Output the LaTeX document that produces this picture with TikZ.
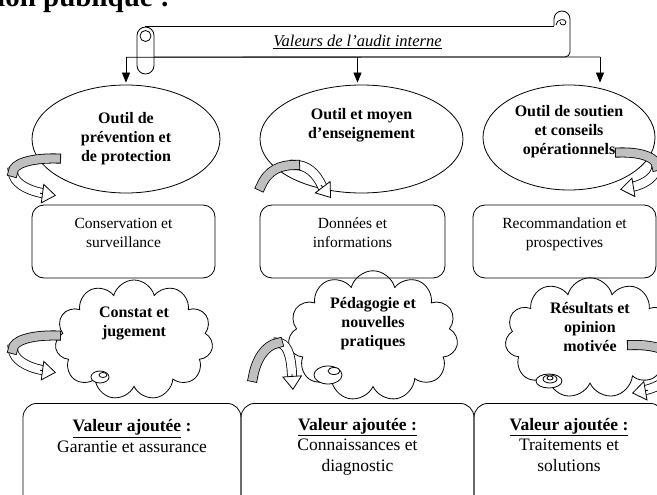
\documentclass[tikz,border=0pt]{standalone}
\usepackage{fontspec}
\setmainfont{Liberation Serif}
\usetikzlibrary{shapes.geometric,shapes.symbols,arrows.meta,positioning}

\definecolor{gris}{RGB}{191,191,191}

\tikzset{
  trait/.style={line width=0.8pt},
  fleche/.style={trait,-{Triangle[width=8pt,length=10pt]},shorten >=2pt},
  titre/.style={anchor=base west,inner sep=0pt,font=\fontsize{29}{33}\selectfont\bfseries},
  rouleau/.style={minimum width=425pt,minimum height=31pt,inner sep=0pt,font=\fontsize{16.5}{19}\selectfont\itshape},
  outil/.style={draw,trait,ellipse,inner sep=0pt,align=center,font=\fontsize{16}{19}\selectfont\bfseries},
  boite/.style={draw,trait,rounded corners=12pt,align=center,minimum height=73pt,font=\fontsize{15.5}{19}\selectfont},
  nuage/.style={draw,trait,cloud,cloud puffs=11,cloud ignores aspect,inner sep=0pt,align=center,font=\fontsize{16}{19}\selectfont\bfseries},
  valeur/.style={draw,trait,rounded corners=14pt,anchor=north,align=center,minimum height=112pt,font=\fontsize{17.5}{20.5}\selectfont},
  bulle/.style={trait,fill=white},
  bande/.style={line width=0.8pt,double distance=8.4pt,line cap=rect},
  pointe/.style={trait,-{Triangle[width=20pt,length=14pt,fill=white]}},
  retour/.pic={
    \draw[bande,double=white] (13,172) .. controls (13,182) and (26,190) .. (42,193);
    \draw[bande,double=gris] (56,158.5) .. controls (30,158) and (13,164) .. (13,172);
    \draw[pointe] (40,193.3) -- (56,195.5);
  }
}

\begin{document}
\begin{tikzpicture}[x=1pt,y=-1pt]
  \useasboundingbox (0,0) rectangle (657,495);
  \clip (0,0) rectangle (657,495);

  % titre coupe en haut de page
  \node[titre] (titre) at (-3,7) {ion publique :};

  % rouleau
  \node[rouleau] (valeurs) at (357.5,41.5) {\underline{Valeurs de l’audit interne}};
  \draw[trait] (145,26) -- (554,26);
  \draw[trait] (554,26) -- (554,19) arc[start angle=180,end angle=360,radius=8]
    -- (570,52) arc[start angle=0,end angle=90,radius=5] -- (154,57);
  \draw[trait] (556,25) .. controls (556,19) and (566,18) .. (566,22)
    .. controls (566,26) and (560,26) .. (560,22);
  \draw[trait,rounded corners=8.5pt] (137,27) rectangle (154,74);
  \draw[trait] (145.5,36) circle (5.5);

  % outils
  \node[outil,minimum width=188pt,minimum height=108pt] (outilA) at (126,139) {Outil de\\prévention et\\de protection};
  \node[outil,minimum width=203pt,minimum height=108pt] (outilB) at (361.5,139) {Outil et moyen\\d’enseignement\\[7pt]\strut};
  \node[outil,minimum width=172pt,minimum height=105pt] (outilC) at (569,137.5) {Outil de soutien\\et conseils\\opérationnels\\[-10pt]\strut};

  % fleches du rouleau
  \coordinate (droite) at (600,57);
  \draw[trait] (valeurs.south -| outilA.north) -- (droite);
  \draw[fleche] (valeurs.south -| outilA.north) -- (outilA.north);
  \draw[fleche] (valeurs.south) -- (valeurs.south |- outilB.north);
  \draw[fleche] (droite) -- (droite |- outilC.north);

  % boites
  \node[boite,minimum width=183pt] (conservation) at (123.5,241.5) {Conservation et\\surveillance\\[-7pt]\strut};
  \node[boite,minimum width=185pt] (donnees) at (352.5,241.5) {Données et\\informations\\[-7pt]\strut};
  \node[boite,minimum width=183pt] (recommandation) at (564.5,241.5) {Recommandation et\\prospectives\\[-7pt]\strut};

  % nuages
  \node[nuage,minimum width=158pt,minimum height=120pt] (constat) at (134,340) {Constat et\\jugement\\[12pt]\strut};
  \node[nuage,minimum width=170pt,minimum height=128pt] (pedagogie) at (373,336) {Pédagogie et\\nouvelles\\pratiques\\[3pt]\strut};
  \node[nuage,minimum width=170pt,minimum height=115pt] (resultats) at (590,338) {Résultats et\\opinion\\motivée\\[-3pt]\strut};
  \draw[bulle] (100,377) ellipse [x radius=9,y radius=6];
  \draw[bulle] (103,375) ellipse [x radius=4,y radius=2.5];
  \draw[bulle] (328,375) ellipse [x radius=14,y radius=9];
  \draw[bulle] (334,371) ellipse [x radius=6,y radius=3.5];
  \draw[bulle] (549,381) ellipse [x radius=13,y radius=7];
  \draw[bulle] (550,379) ellipse [x radius=7,y radius=4];
  \draw[bulle] (550,378) ellipse [x radius=3,y radius=2];

  % valeur ajoutee
  \node[valeur,minimum width=218pt] (garantie) at (132,403) {\textbf{\underline{Valeur ajoutée} :}\\Garantie et assurance\\\strut\\\strut};
  \node[valeur,minimum width=233pt] (connaissances) at (357.5,403) {\textbf{\underline{Valeur ajoutée :}}\\Connaissances et\\diagnostic\\[2.5pt]\strut};
  \node[valeur,minimum width=190pt] (traitements) at (569,403) {\textbf{\underline{Valeur ajoutée :}}\\Traitements et\\solutions\\[2.5pt]\strut};

  % fleches courbes
  \pic at (0,0) {retour};
  \pic at (0,177) {retour};
  \pic[xscale=-0.85] at (667.6,-6) {retour};
  \pic[xscale=-1,yscale=1.3] at (688,139) {retour};
  \draw[bande,double=white] (295,165) .. controls (307,165) and (316,173) .. (322,186);
  \draw[bande,double=gris] (261,186) .. controls (268,170) and (280,165) .. (295,165);
  \draw[pointe] (321,185) -- (331,198);
  \draw[bande,double=white] (278,343) .. controls (286,343) and (291,352) .. (292,375);
  \draw[bande,double=gris] (253,377) .. controls (256,360) and (265,345) .. (278,343);
  \draw[pointe] (292,374) -- (293,390);
\end{tikzpicture}
\end{document}
